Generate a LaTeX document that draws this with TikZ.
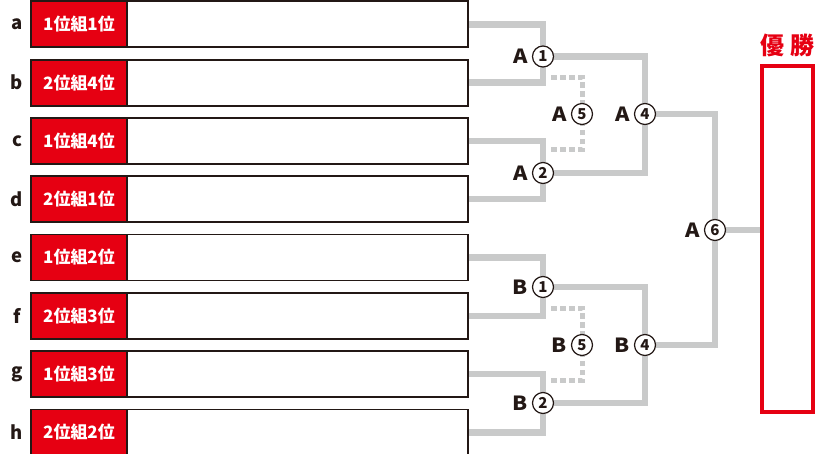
\documentclass[tikz,border=0pt]{standalone}
\usepackage{fontspec}
\setmainfont{Noto Sans CJK JP}
\usetikzlibrary{backgrounds}
\definecolor{redc}{HTML}{E60012}
\definecolor{grayc}{HTML}{C9CACA}
\definecolor{ink}{HTML}{231815}
\tikzset{
  wbox/.style={draw=ink, line width=1.8pt, fill=white, minimum width=437pt, minimum height=46pt, inner sep=0pt, outer sep=0pt},
  rbox/.style={draw=ink, line width=1.8pt, fill=redc, minimum width=96pt, minimum height=46pt, inner sep=0pt, outer sep=0pt, text=white, font=\bfseries\fontsize{17}{18}\selectfont},
  lettr/.style={text=ink, inner sep=0pt, font=\bfseries\fontsize{18.5}{20}\selectfont},
  cnum/.style={circle, draw=ink, line width=1.2pt, fill=white, minimum size=21pt, inner sep=0pt, text=ink, font=\bfseries\fontsize{15}{16}\selectfont},
  rlab/.style={text=ink, inner sep=0pt, font=\bfseries\fontsize{19.5}{20}\selectfont},
  gline/.style={draw=grayc, line width=6.5pt, line join=miter},
  dline/.style={draw=grayc, line width=5pt, dash pattern=on 5.5pt off 3.5pt},
  winbox/.style={draw=redc, line width=4pt, minimum width=51pt, minimum height=345.7pt, inner sep=0pt, outer sep=0pt},
  ttl/.style={text=redc, inner sep=0pt, font=\bfseries\fontsize{24}{26}\selectfont}
}
\begin{document}
\begin{tikzpicture}[x=1pt,y=-1pt]
\useasboundingbox (0,0) rectangle (817,453);
\foreach \n/\t [count=\i from 0] in {a/1位組1位, b/2位組4位, c/1位組4位, d/2位組1位, e/1位組2位, f/2位組3位, g/1位組3位, h/2位組2位} {
  \pgfmathsetmacro\yc{24.3+58.3*\i}
  \node[wbox] (\n) at (249.5,\yc) {};
  \node[rbox, anchor=west] (r\n) at (\n.west) {\t};
  \node[lettr] (l\n) at (17,\yc) {\n};
}
% round nodes
\node[cnum] (A1) at (543,56.5) {1};
\node[cnum] (A2) at (543,173) {2};
\node[cnum] (A5) at (582,114) {5};
\node[cnum] (A4) at (645,114) {4};
\node[cnum] (A6) at (715,230) {6};
\node[cnum] (B1) at (543,287) {1};
\node[cnum] (B2) at (543,403) {2};
\node[cnum] (B5) at (582,345) {5};
\node[cnum] (B4) at (645,345) {4};
\foreach \m/\s in {A1/A, A2/A, A5/A, A4/A, A6/A, B1/B, B2/B, B5/B, B4/B} {
  \node[rlab, anchor=east] (t\m) at ([xshift=-4pt]\m.west) {\scalebox{1.12}[1]{\s}};
}
\node[winbox] (win) at (787.5,238.8) {};
\node[ttl] (title) at (787.5,45) {優 勝};
\coordinate (da1) at (551,77);
\coordinate (da2) at (551,149);
\coordinate (db1) at (551,308);
\coordinate (db2) at (551,380);
\begin{pgfonlayer}{background}
  \draw[gline] (a.east) -| (A1.center);
  \draw[gline] (b.east) -| (A1.center);
  \draw[gline] (c.east) -| (A2.center);
  \draw[gline] (d.east) -| (A2.center);
  \draw[gline] (e.east) -| (B1.center);
  \draw[gline] (f.east) -| (B1.center);
  \draw[gline] (g.east) -| (B2.center);
  \draw[gline] (h.east) -| (B2.center);
  \draw[gline] (A1.center) -| (A4.center);
  \draw[gline] (A2.center) -| (A4.center);
  \draw[gline] (B1.center) -| (B4.center);
  \draw[gline] (B2.center) -| (B4.center);
  \draw[gline] (A4.center) -| (A6.center);
  \draw[gline] (B4.center) -| (A6.center);
  \draw[gline] (A6.center) -- (A6 -| win.west);
  \draw[dline] (da1) -| (A5.center);
  \draw[dline] (da2) -| (A5.center);
  \draw[dline] (db1) -| (B5.center);
  \draw[dline] (db2) -| (B5.center);
\end{pgfonlayer}
\end{tikzpicture}
\end{document}
